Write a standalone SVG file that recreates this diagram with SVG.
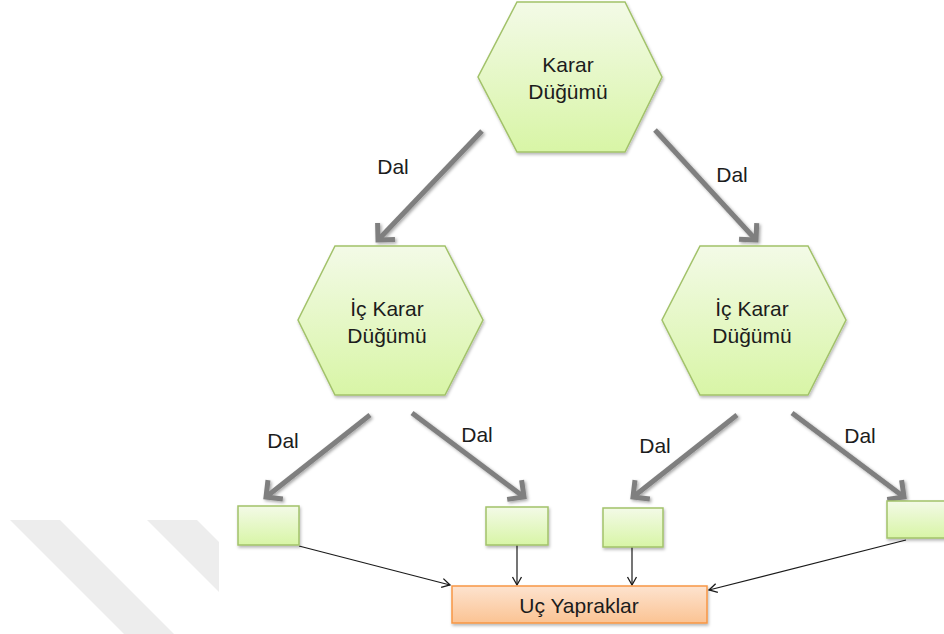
<svg xmlns="http://www.w3.org/2000/svg" width="944" height="634" viewBox="0 0 944 634">
  <defs>
    <linearGradient id="greenFill" x1="0" y1="0" x2="0" y2="1">
      <stop offset="0" stop-color="#f3fae7"/>
      <stop offset="1" stop-color="#d8f5a6"/>
    </linearGradient>
    <linearGradient id="orangeFill" x1="0" y1="0" x2="0" y2="1">
      <stop offset="0" stop-color="#fde3cf"/>
      <stop offset="1" stop-color="#fbc393"/>
    </linearGradient>
    <filter id="shadow" x="-10%" y="-10%" width="130%" height="130%">
      <feDropShadow dx="1" dy="2" stdDeviation="1.5" flood-color="#000" flood-opacity="0.28"/>
    </filter>
    <filter id="lineShadow" filterUnits="userSpaceOnUse" x="0" y="0" width="944" height="634">
      <feDropShadow dx="1.5" dy="1.5" stdDeviation="1.5" flood-color="#000" flood-opacity="0.35"/>
    </filter>
    <marker id="chevron" viewBox="-20 -15 30 30" refX="0" refY="0" markerWidth="30" markerHeight="30" markerUnits="userSpaceOnUse" orient="auto">
      <path d="M-12,-12 L0,0 L-12,12" fill="none" stroke="#7f7f7f" stroke-width="5" stroke-linejoin="miter"/>
    </marker>
    <marker id="thinHead" viewBox="-12 -8 16 16" refX="0" refY="0" markerWidth="16" markerHeight="16" markerUnits="userSpaceOnUse" orient="auto">
      <path d="M-8,-4.5 L0,0 L-8,4.5" fill="none" stroke="#1a1a1a" stroke-width="1.3"/>
    </marker>
  </defs>
  <style>
    .hex { fill: url(#greenFill); stroke: #a2c26a; stroke-width: 1.5; filter: url(#shadow); }
    .leaf { fill: url(#greenFill); stroke: #a2c26a; stroke-width: 1.5; filter: url(#shadow); }
    .result { fill: url(#orangeFill); stroke: #f79646; stroke-width: 1.5; filter: url(#shadow); }
    .label { font-family: "Liberation Sans", Arial, sans-serif; font-size: 21px; fill: #1c1c1c; text-anchor: middle; }
    .branch { fill: none; stroke: #7f7f7f; stroke-width: 5; marker-end: url(#chevron); }
    .link { fill: none; stroke: #1a1a1a; stroke-width: 1.2; marker-end: url(#thinHead); }
  </style>

  <rect width="944" height="634" fill="#ffffff"/>

  <!-- faint diagonal bands, lower left -->
  <g id="bands" fill="#ededed">
    <polygon points="10,520 60,520 174,634 124,634"/>
    <polygon points="147,520 197,520 219,542 219,592"/>
  </g>

  <!-- branch and link connectors -->
  <g id="connectors">
    <g filter="url(#lineShadow)">
      <line class="branch" x1="482" y1="131" x2="378" y2="240"/>
      <line class="branch" x1="655" y1="130" x2="756" y2="240"/>
      <line class="branch" x1="370" y1="415" x2="266" y2="497"/>
      <line class="branch" x1="412" y1="413" x2="524" y2="497"/>
      <line class="branch" x1="737" y1="415" x2="633" y2="497"/>
      <line class="branch" x1="792" y1="413" x2="904" y2="497"/>
    </g>
    <line class="link" x1="299" y1="546" x2="450" y2="585"/>
    <line class="link" x1="517" y1="545" x2="517" y2="585"/>
    <line class="link" x1="632" y1="547" x2="632" y2="585"/>
    <line class="link" x1="906" y1="540" x2="709" y2="590"/>
    <text class="label" x="393" y="174">Dal</text>
    <text class="label" x="732" y="182">Dal</text>
    <text class="label" x="283" y="448">Dal</text>
    <text class="label" x="477" y="442">Dal</text>
    <text class="label" x="655" y="453">Dal</text>
    <text class="label" x="860" y="443">Dal</text>
  </g>

  <!-- root decision node -->
  <g id="root">
    <polygon class="hex" points="517,2 625,2 662,77 625,152 517,152 478,77"/>
    <text class="label" x="568" y="72">Karar</text>
    <text class="label" x="568" y="99">Düğümü</text>
  </g>

  <!-- internal decision nodes -->
  <g id="inner-left">
    <polygon class="hex" points="335,246 445,246 483,320 445,395 335,395 298,320"/>
    <text class="label" x="387" y="316">İç Karar</text>
    <text class="label" x="387" y="343">Düğümü</text>
  </g>
  <g id="inner-right">
    <polygon class="hex" points="700,246 808,246 846,320 808,395 700,395 662,320"/>
    <text class="label" x="752" y="316">İç Karar</text>
    <text class="label" x="752" y="343">Düğümü</text>
  </g>

  <!-- leaves -->
  <g id="leaf-1"><rect class="leaf" x="238" y="506" width="61" height="39"/></g>
  <g id="leaf-2"><rect class="leaf" x="486" y="507" width="62" height="38"/></g>
  <g id="leaf-3"><rect class="leaf" x="603" y="508" width="60" height="39"/></g>
  <g id="leaf-4"><rect class="leaf" x="887" y="501" width="63" height="37"/></g>

  <!-- terminal leaves box -->
  <g id="terminal">
    <rect class="result" x="452" y="586" width="255" height="37"/>
    <text class="label" x="579" y="613">Uç Yapraklar</text>
  </g>
</svg>
